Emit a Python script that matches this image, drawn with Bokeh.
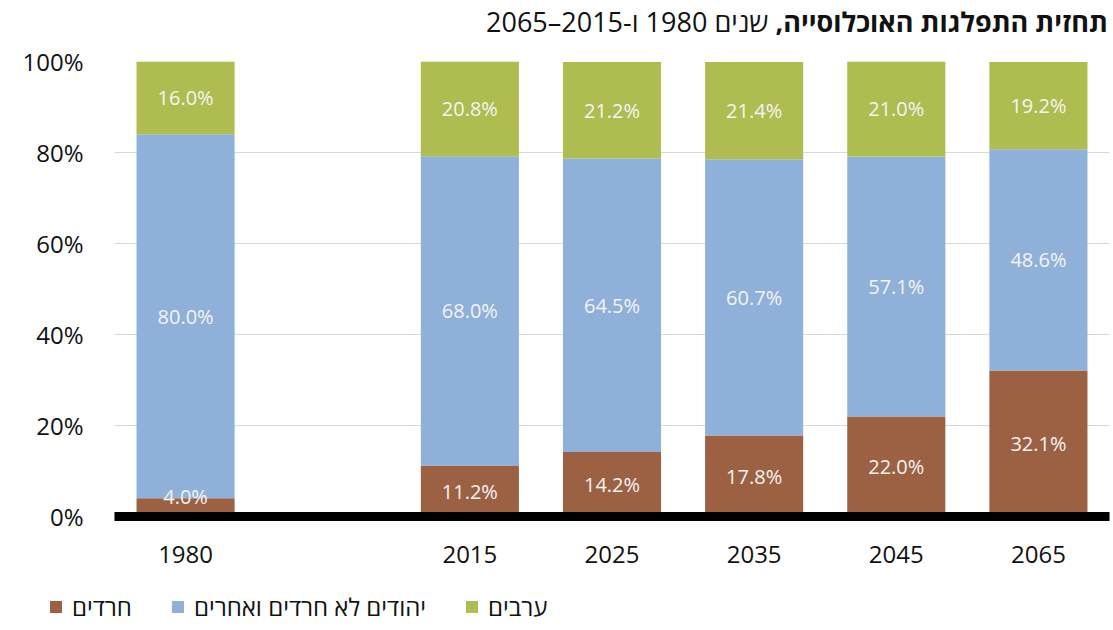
from bokeh.plotting import figure
from bokeh.layouts import column
from bokeh.models import (ColumnDataSource, FactorRange, Range1d, FixedTicker, Legend, LegendItem, Div)
from bokeh.core.properties import value
from bokeh.embed import file_html
from bokeh.resources import INLINE

# ---- data ----
years = ["1980", "2015", "2025", "2035", "2045", "2065"]
slots = ["1980", " ", "2015", "2025", "2035", "2045", "2065"]
haredim = [4.0, 11.2, 14.2, 17.8, 22.0, 32.1]
jews_other = [80.0, 68.0, 64.5, 60.7, 57.1, 48.6]
arabs = [16.0, 20.8, 21.2, 21.4, 21.0, 19.2]
series_names = ["חרדים", "יהודים לא חרדים ואחרים", "ערבים"]
colors = ["#9B6142", "#8FB0D8", "#AFBC50"]
y_ticks = [0, 20, 40, 60, 80, 100]
y_tick_labels = ["0%", "20%", "40%", "60%", "80%", "100%"]
title_bold = "תחזית התפלגות האוכלוסייה,"
title_rest = "שנים 1980 ו-2015–2065"

FONT = "Open Sans"
W = 1110

title = Div(text=f'<div dir="rtl" style="font-family:\'Open Sans\';font-size:27px;line-height:30px;'
                 f'color:#111;padding-top:7px;width:{W - 2}px;text-align:right;white-space:nowrap;">'
                 f'<b>{title_bold}</b> {title_rest}</div>',
            width=W, height=40, margin=(0, 0, 0, 0))

p = figure(x_range=FactorRange(factors=slots, range_padding=0),
           y_range=Range1d(0, 100),
           width=W, height=540,
           min_border_left=114, min_border_right=1, min_border_top=21, min_border_bottom=64,
           output_backend="svg", toolbar_location=None, tools="", margin=(0, 0, 0, 0))
p.outline_line_color = None
p.background_fill_color = "white"

src = ColumnDataSource(dict(x=years, h=haredim, j=jews_other, a=arabs))
rs = p.vbar_stack(["h", "j", "a"], x="x", width=0.69, source=src, color=colors, line_color=None)

# labels
lx, ly, lt = [], [], []
for i, yr in enumerate(years):
    base = 0.0
    for vals in (haredim, jews_other, arabs):
        v = vals[i]
        mid = base + v / 2.0
        lx.append(yr)
        ly.append(max(mid, 4.3))
        lt.append(f"{v:.1f}%")
        base += v
p.text(x=lx, y=ly, text=lt, text_align="center", text_baseline="middle",
       text_color="#F4F4F4", text_font=value(FONT), text_font_size="20px")

# axes
p.xgrid.grid_line_color = None
p.ygrid.grid_line_color = "#D9D9D9"
p.ygrid.grid_line_width = 1
p.yaxis.ticker = FixedTicker(ticks=y_ticks)
p.yaxis.major_label_overrides = {t: l for t, l in zip(y_ticks, y_tick_labels)}
p.yaxis.axis_line_color = None
p.yaxis.major_tick_line_color = None
p.yaxis.minor_tick_line_color = None
p.yaxis.major_label_text_font = FONT
p.yaxis.major_label_text_font_size = "24px"
p.yaxis.major_label_text_color = "#111111"
p.yaxis.major_label_standoff = 25

p.xaxis.axis_line_color = "black"
p.xaxis.axis_line_width = 9
p.xaxis.major_tick_line_color = None
p.xaxis.minor_tick_line_color = None
p.xaxis.major_label_text_font = FONT
p.xaxis.major_label_text_font_size = "24px"
p.xaxis.major_label_text_color = "#111111"
p.xaxis.major_label_standoff = 14

# legend (separate strip, same glyph styles)
lg = figure(width=W, height=48, min_border=0, x_axis_type=None, y_axis_type=None,
            x_range=Range1d(0, 1), y_range=Range1d(0, 1),
            output_backend="svg", toolbar_location=None, tools="", margin=(0, 0, 0, 0))
lg.frame_align = False
lg.outline_line_color = None
lg.xgrid.grid_line_color = None
lg.ygrid.grid_line_color = None
dummy = ColumnDataSource(dict(x=[0], h=[0], j=[0], a=[0]))
lrs = lg.vbar_stack(["h", "j", "a"], x="x", width=0.0, source=dummy, color=colors, line_color=None)
items = [LegendItem(label=n, renderers=[r]) for n, r in zip(series_names, lrs)]
leg = Legend(items=items, orientation="horizontal", location=(48, 5),
             glyph_width=15, glyph_height=15, label_standoff=9, spacing=38,
             padding=0, margin=0, border_line_color=None, background_fill_alpha=0,
             label_text_font=FONT, label_text_font_size="24px", label_text_color="#111111")
lg.add_layout(leg, "center")

open("out.html", "w").write(file_html(column(title, p, lg, spacing=0), INLINE))
